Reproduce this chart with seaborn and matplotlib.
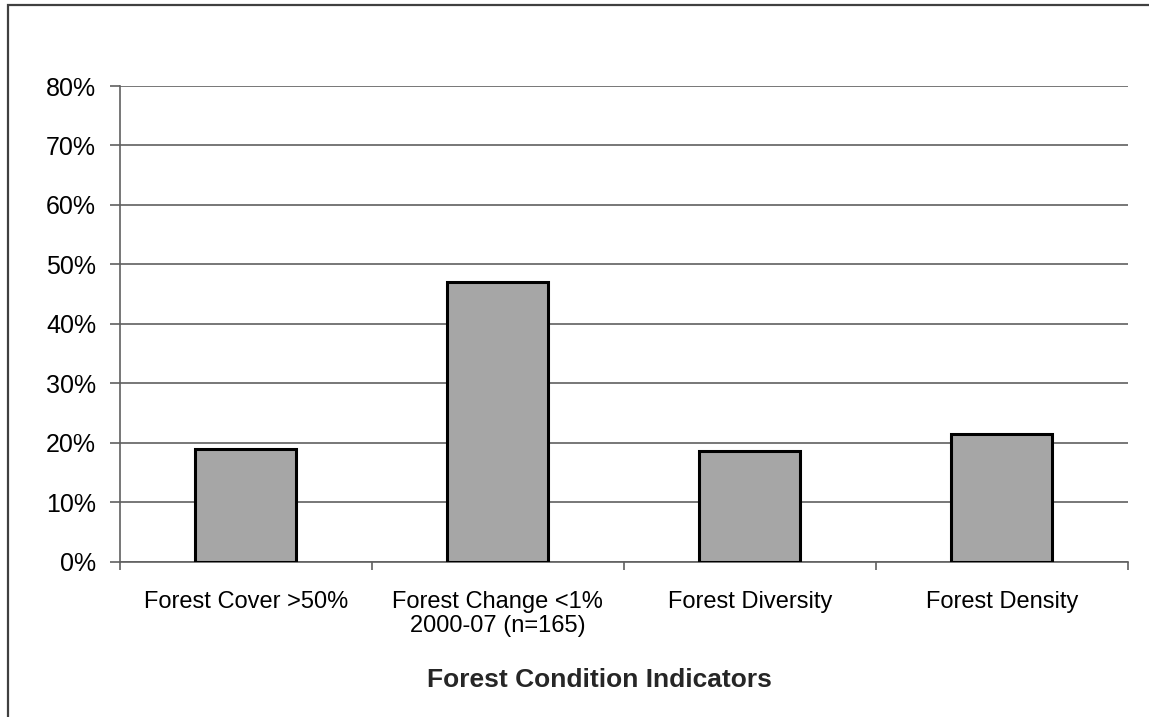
import matplotlib
matplotlib.use("Agg")
import matplotlib.pyplot as plt
from matplotlib.patches import Rectangle
from matplotlib.ticker import FixedLocator, PercentFormatter
import seaborn as sns
import pandas as pd

# Share of sites meeting each forest condition indicator (%)
categories = [
    "Forest Cover >50%",
    "Forest Change <1%\n2000-07 (n=165)",
    "Forest Diversity",
    "Forest Density",
]
values = [19.0, 47.1, 18.6, 21.4]
y_ticks = [0, 10, 20, 30, 40, 50, 60, 70, 80]
x_title = "Forest Condition Indicators"

sns.set_style("white")
plt.rcParams["font.family"] = ["Liberation Sans", "DejaVu Sans"]

W, H = 1149, 717
fig = plt.figure(figsize=(W / 100, H / 100), dpi=100)
ax = fig.add_axes([119.7 / W, 1 - 561.7 / H, 1008 / W, (561.7 - 86) / H])

df = pd.DataFrame({"indicator": categories, "share": values})
sns.barplot(data=df, x="indicator", y="share", color="#a6a6a6",
            edgecolor="black", linewidth=2.2, width=0.4, saturation=1, ax=ax,
            zorder=3)

grid_color = "#606060"
ax.set_xlim(-0.5, len(categories) - 0.5)
ax.set_ylim(0, 80)
ax.set_yticks(y_ticks)
ax.yaxis.set_major_formatter(PercentFormatter(decimals=0))
ax.yaxis.grid(True, color=grid_color, linewidth=1.2, zorder=0)
ax.set_axisbelow(True)

for side in ("top", "right"):
    ax.spines[side].set_visible(False)
for side in ("left", "bottom"):
    ax.spines[side].set_color(grid_color)
    ax.spines[side].set_linewidth(1.2)

# Category labels centred under bars, tick marks at category boundaries
ax.tick_params(axis="x", which="major", length=0, pad=21, labelsize=17,
               colors="black")
ax.xaxis.set_minor_locator(FixedLocator([i - 0.5 for i in range(len(categories) + 1)]))
ax.tick_params(axis="x", which="minor", direction="out", length=6,
               width=1.2, color=grid_color, bottom=True)
ax.tick_params(axis="y", direction="out", length=7, width=1.2,
               color=grid_color, labelsize=18, pad=10, left=True,
               labelcolor="black")
for lbl in ax.get_xticklabels():
    lbl.set_linespacing(1.15)

ax.set_xlabel("")
ax.set_ylabel("")

fig.text(599 / W, 1 - 680 / H, x_title, ha="center", va="center",
         fontsize=19, fontweight="bold")

# Chart-area frame
fig.patches.append(Rectangle((8 / W, -0.05), 1.2, 1 - 5 / H + 0.05,
                             transform=fig.transFigure, fill=False,
                             edgecolor="#404040", linewidth=1.6))

fig.savefig("out.png", dpi=100, facecolor="white")
